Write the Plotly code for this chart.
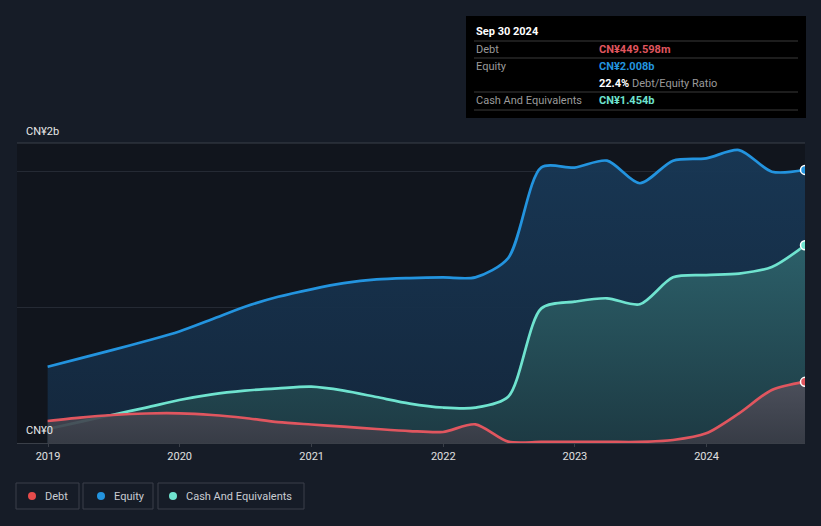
import plotly.graph_objects as go

dates = ["2018-12-31", "2019-03-31", "2019-06-30", "2019-09-30",
         "2019-12-31", "2020-03-31", "2020-06-30", "2020-09-30",
         "2020-12-31", "2021-03-31", "2021-06-30", "2021-09-30",
         "2021-12-31", "2022-03-31", "2022-06-30", "2022-09-30",
         "2022-12-31", "2023-03-31", "2023-06-30", "2023-09-30",
         "2023-12-31", "2024-03-31", "2024-06-30", "2024-09-30"]

equity = [0.561, 0.622, 0.685, 0.750, 0.820, 0.910, 1.002, 1.075,
          1.130, 1.175, 1.203, 1.213, 1.218, 1.218, 1.360, 2.027,
          2.025, 2.076, 1.910, 2.076, 2.093, 2.154, 1.995, 2.008]

cash = [0.103, 0.155, 0.208, 0.260, 0.316, 0.358, 0.385, 0.402,
        0.414, 0.385, 0.338, 0.290, 0.261, 0.260, 0.340, 0.990,
        1.039, 1.064, 1.020, 1.218, 1.235, 1.246, 1.294, 1.454]

debt = [0.162, 0.187, 0.206, 0.217, 0.218, 0.206, 0.184, 0.154,
        0.136, 0.120, 0.103, 0.088, 0.081, 0.1375, 0.010, 0.008,
        0.008, 0.008, 0.008, 0.022, 0.071, 0.218, 0.390, 0.4496]

year_ticks = ["2019-01-01", "2020-01-01", "2021-01-01", "2022-01-01", "2023-01-01", "2024-01-01"]
year_labels = ["2019", "2020", "2021", "2022", "2023", "2024"]

tooltip_title = "Sep 30 2024"
tooltip_rows = ["Debt", "Equity", "", "Cash And Equivalents"]
tooltip_values = ["CN¥449.598m", "CN¥2.008b", "22.4%", "CN¥1.454b"]
legend_names = ["Debt", "Equity", "Cash And Equivalents"]

RED = "#e0565f"
BLUE = "#2394df"
TEAL = "#6fe3cf"
PAPER = "#161c27"
PLOT = "#11151d"

W, H = 821, 526
L, R, T, B = 17, 805, 143, 443
SM = 0.8


def px(x):
    return (x - L) / (R - L)


def py(y):
    return (B - y) / (B - T)


fig = go.Figure()

fig.add_trace(go.Scatter(
    x=dates, y=equity, mode="lines", line=dict(color=BLUE, width=2.7, shape="spline", smoothing=SM),
    fill="tozeroy",
    fillgradient=dict(type="vertical", colorscale=[[0, "rgba(20,40,62,0.95)"], [1, "rgba(24,56,86,0.95)"]]),
    hoverinfo="skip", showlegend=False))
fig.add_trace(go.Scatter(
    x=dates, y=cash, mode="lines", line=dict(color=TEAL, width=2.7, shape="spline", smoothing=SM),
    fill="tozeroy",
    fillgradient=dict(type="vertical", colorscale=[[0, "rgba(30,60,68,0.9)"], [1, "rgba(46,100,108,0.9)"]]),
    hoverinfo="skip", showlegend=False))
fig.add_trace(go.Scatter(
    x=dates, y=debt, mode="lines", line=dict(color=RED, width=2.7, shape="spline", smoothing=SM),
    fill="tozeroy",
    fillgradient=dict(type="vertical", colorscale=[[0, "rgba(58,60,70,0.9)"], [1, "rgba(80,80,92,0.9)"]]),
    hoverinfo="skip", showlegend=False))

# end markers
for vals, col in [(equity, BLUE), (cash, TEAL), (debt, RED)]:
    fig.add_trace(go.Scatter(
        x=[dates[-1]], y=[vals[-1]], mode="markers",
        marker=dict(color=col, size=9, line=dict(color="white", width=1.5)),
        hoverinfo="skip", showlegend=False))

shapes = []
# top line
shapes.append(dict(type="line", xref="paper", yref="paper", x0=0, x1=1, y0=1, y1=1,
                   line=dict(color="#3b404b", width=1.2), layer="above"))

annotations = []
# y labels
annotations.append(dict(xref="paper", yref="paper", x=px(24), y=py(131), text="CN¥2b",
                        showarrow=False, xanchor="left", yanchor="middle",
                        font=dict(size=11, color="#e8e8e8", family="Roboto")))
annotations.append(dict(xref="paper", yref="paper", x=px(24), y=py(430), text="CN¥0",
                        showarrow=False, xanchor="left", yanchor="middle",
                        font=dict(size=11, color="#e8e8e8", family="Roboto")))

# tooltip box
shapes.append(dict(type="rect", xref="paper", yref="paper", x0=px(466), x1=px(806), y0=py(118), y1=py(16),
                   fillcolor="#000000", line=dict(width=0), layer="above"))
for ly in [41, 58, 92, 110]:
    shapes.append(dict(type="line", xref="paper", yref="paper", x0=px(474), x1=px(798), y0=py(ly), y1=py(ly),
                       line=dict(color="#3a3a3a", width=1), layer="above"))
annotations.append(dict(xref="paper", yref="paper", x=px(474), y=py(31), text="<b>" + tooltip_title + "</b>",
                        showarrow=False, xanchor="left", yanchor="middle",
                        font=dict(size=11, color="#ffffff", family="Roboto")))
row_y = [49, 66, 83, 100]
val_colors = [RED, BLUE, "#ffffff", TEAL]
for i in range(4):
    if tooltip_rows[i]:
        annotations.append(dict(xref="paper", yref="paper", x=px(474), y=py(row_y[i]), text=tooltip_rows[i],
                                showarrow=False, xanchor="left", yanchor="middle",
                                font=dict(size=11, color="#9a9a9a", family="Roboto")))
    if i == 2:
        txt = "<b>" + tooltip_values[i] + "</b> <span style='color:#9a9a9a'>Debt/Equity Ratio</span>"
    else:
        txt = "<b>" + tooltip_values[i] + "</b>"
    annotations.append(dict(xref="paper", yref="paper", x=px(597), y=py(row_y[i]), text=txt,
                            showarrow=False, xanchor="left", yanchor="middle",
                            font=dict(size=11, color=val_colors[i], family="Roboto")))

# legend boxes
boxes = [(16, 79), (83, 153), (158, 304)]
dots = [32, 101, 173]
dot_cols = ["#e64b4b", BLUE, TEAL]
for (x0, x1), dx, dc, name in zip(boxes, dots, dot_cols, legend_names):
    shapes.append(dict(type="rect", xref="paper", yref="paper", x0=px(x0), x1=px(x1), y0=py(509), y1=py(483),
                       fillcolor="rgba(0,0,0,0)", line=dict(color="#3a3f4a", width=1)))
    shapes.append(dict(type="circle", xref="paper", yref="paper", x0=px(dx - 4), x1=px(dx + 4),
                       y0=py(500), y1=py(492), fillcolor=dc, line=dict(width=0)))
    annotations.append(dict(xref="paper", yref="paper", x=px(dx + 11), y=py(496), text=name,
                            showarrow=False, xanchor="left", yanchor="middle",
                            font=dict(size=11, color="#c9ccd2", family="Roboto")))

fig.update_layout(
    width=W, height=H,
    margin=dict(l=L, r=W - R, t=T, b=H - B, pad=0),
    paper_bgcolor=PAPER, plot_bgcolor=PLOT,
    shapes=shapes, annotations=annotations,
    showlegend=False,
    xaxis=dict(type="date", range=["2018-10-07", "2024-09-30"], tickvals=year_ticks, ticktext=year_labels,
               showgrid=False, zeroline=False, showline=True, linecolor="#3a3f48", linewidth=1,
               ticks="outside", ticklen=3, tickcolor="#3a3f48",
               tickfont=dict(size=11, color="#e0e0e0", family="Roboto")),
    yaxis=dict(range=[0, 300 / 136], tickvals=[1, 2], showticklabels=False, showgrid=True,
               gridcolor="#252a34", gridwidth=1, zeroline=False, showline=False),
)

fig.write_html("out.html", config={"displayModeBar": False},
               post_script="document.body.style.margin='0';document.body.style.overflow='hidden';"
                           "document.body.style.background='" + PAPER + "';")
